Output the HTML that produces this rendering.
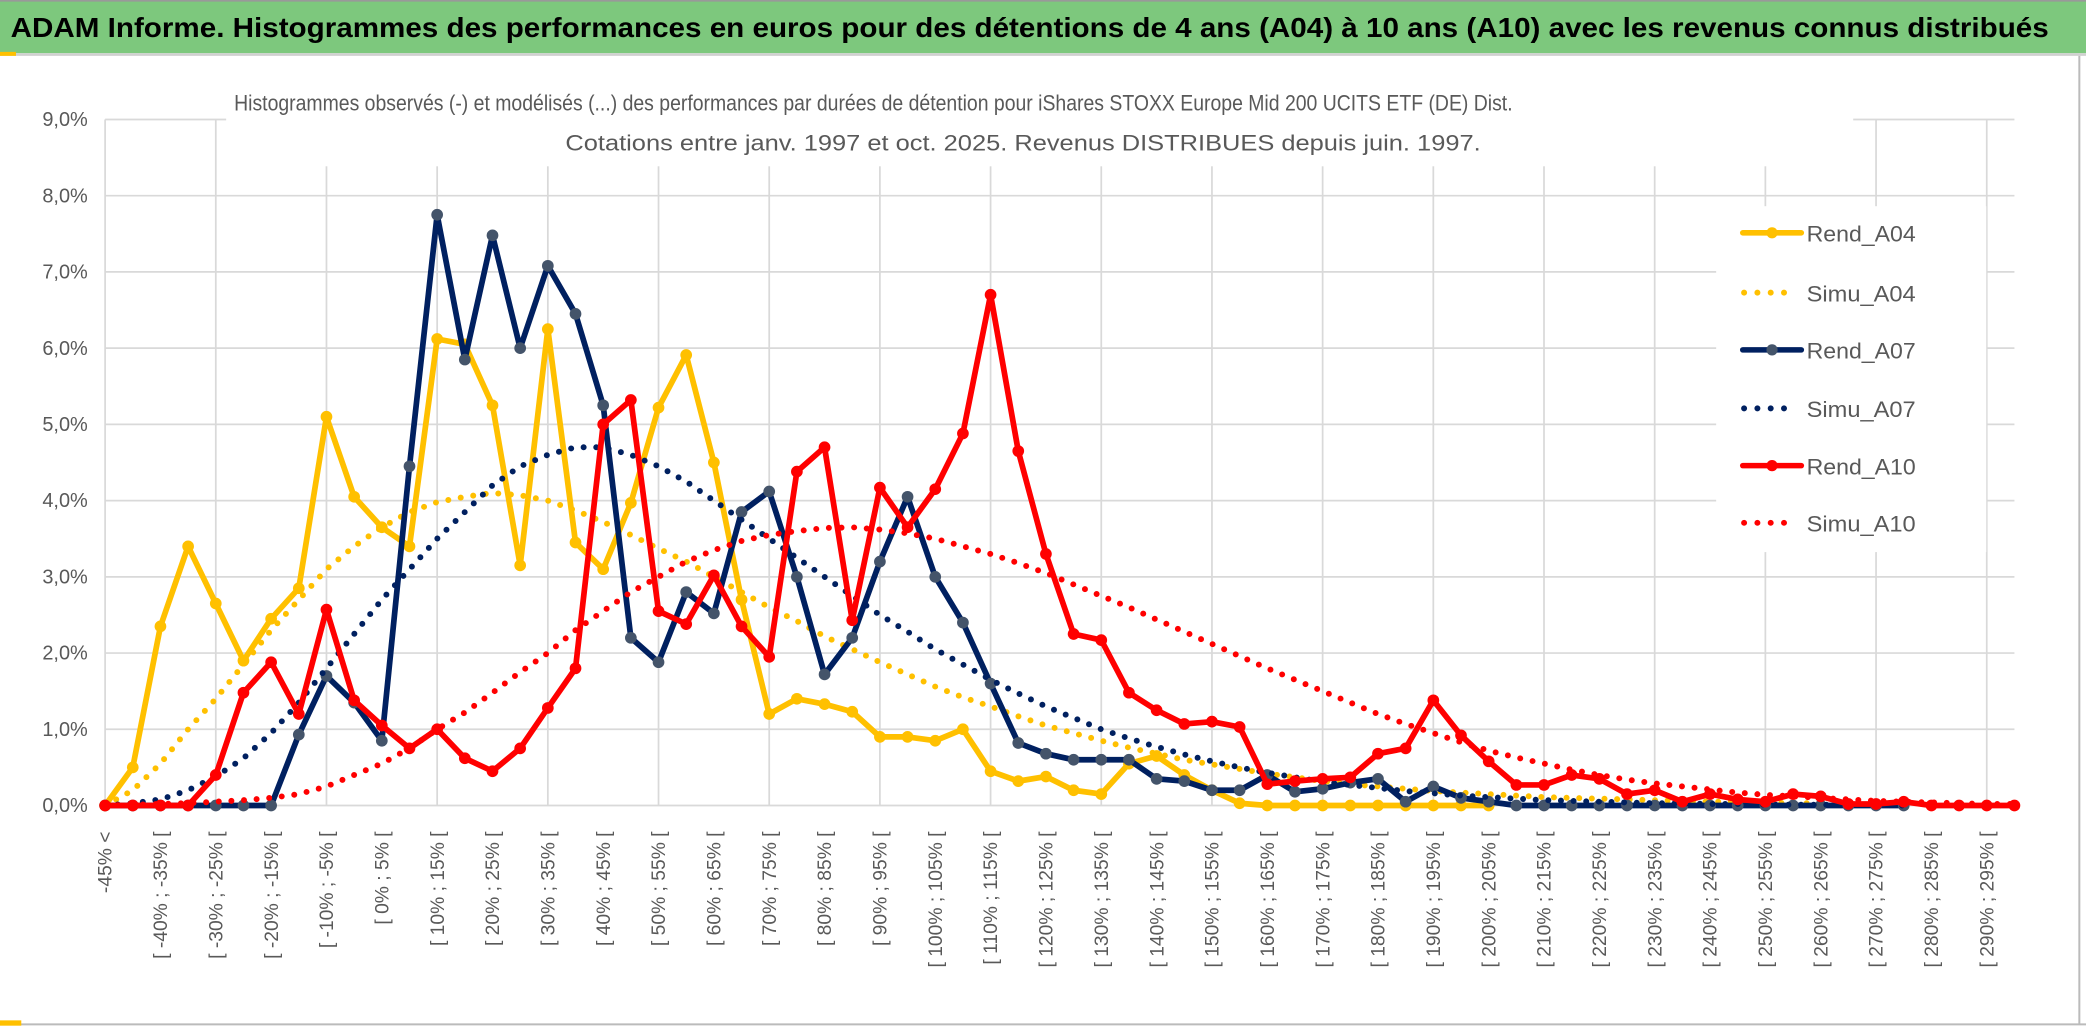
<!DOCTYPE html>
<html><head><meta charset="utf-8"><style>
html,body{margin:0;padding:0;background:#fff;}
svg{display:block;font-family:"Liberation Sans",sans-serif;}
</style></head><body>
<svg id="chart" width="2086" height="1033" viewBox="0 0 1568 776.5" preserveAspectRatio="none" xmlns="http://www.w3.org/2000/svg">
<rect x="0" y="0" width="1568" height="776.5" fill="#fff"/>
<rect x="0" y="1" width="1568" height="39" fill="#7DC87D"/>
<line x1="0" y1="0.6" x2="1568" y2="0.6" stroke="#999" stroke-width="1.2"/>
<line x1="0" y1="41" x2="1568" y2="41" stroke="#d0d0d0" stroke-width="2"/>
<rect x="0" y="39" width="12" height="3" fill="#FFC000"/>
<text x="8" y="28" font-size="21" font-weight="bold" fill="#000" textLength="1532" lengthAdjust="spacingAndGlyphs">ADAM Informe. Histogrammes des performances en euros pour des détentions de 4 ans (A04) à 10 ans (A10) avec les revenus connus distribués</text>
<line x1="1563" y1="42" x2="1563" y2="770" stroke="#bbb" stroke-width="1.5"/>
<line x1="0" y1="770" x2="1568" y2="770" stroke="#bbb" stroke-width="1.5"/>
<rect x="0" y="767" width="16" height="4" fill="#FFC000"/>
<g id="grid"></g>
<rect x="170" y="60" width="1223" height="65" fill="#fff"/>
<text x="176" y="83" font-size="17" fill="#595959" textLength="961" lengthAdjust="spacingAndGlyphs">Histogrammes observés (-) et modélisés (...) des performances par durées de détention pour iShares STOXX Europe Mid 200 UCITS ETF (DE) Dist.</text>
<text x="425" y="113" font-size="17" fill="#595959" textLength="688" lengthAdjust="spacingAndGlyphs">Cotations entre janv. 1997 et oct. 2025. Revenus DISTRIBUES depuis juin. 1997.</text>
<g id="yaxis"></g>
<g id="xaxis"></g>
<g id="series"></g>
<rect x="1290" y="155" width="203" height="260" fill="#fff"/>
<g id="legend"></g>
</svg>
<script>
const yTicks = [0,1,2,3,4,5,6,7,8,9];
const yTickLabels = ["0,0%","1,0%","2,0%","3,0%","4,0%","5,0%","6,0%","7,0%","8,0%","9,0%"];
const nCategories = 70;
const rendA04 = [0,0.5,2.35,3.4,2.65,1.9,2.45,2.85,5.1,4.05,3.65,3.4,6.12,6.05,5.25,3.15,6.25,3.45,3.1,3.97,5.22,5.91,4.5,2.7,1.2,1.4,1.33,1.23,0.9,0.9,0.85,1.0,0.45,0.32,0.38,0.2,0.15,0.55,0.65,0.4,0.2,0.03,0,0,0,0,0,0,0,0,0];
const simuA04 = [0,0.2,0.55,1.0,1.4,1.85,2.3,2.7,3.1,3.4,3.65,3.85,3.98,4.05,4.1,4.07,4.0,3.87,3.72,3.55,3.37,3.2,3.0,2.8,2.6,2.42,2.22,2.05,1.88,1.72,1.56,1.42,1.3,1.17,1.05,0.95,0.85,0.76,0.68,0.6,0.54,0.48,0.42,0.37,0.32,0.28,0.25,0.22,0.19,0.17,0.15,0.13,0.11,0.1,0.09,0.08,0.07,0.06,0.05,0.05,0.04,0.03,0.03];
const rendA07 = [0,0,0,0,0,0,0,0.93,1.7,1.35,0.85,4.45,7.75,5.85,7.48,6.0,7.08,6.45,5.25,2.2,1.88,2.8,2.52,3.85,4.12,3.0,1.72,2.2,3.2,4.05,3.0,2.4,1.6,0.82,0.68,0.6,0.6,0.6,0.35,0.32,0.2,0.2,0.4,0.18,0.22,0.3,0.35,0.05,0.25,0.1,0.05,0,0,0,0,0,0,0,0,0,0,0,0,0,0,0];
const simuA07 = [0,0.03,0.08,0.2,0.38,0.62,0.95,1.35,1.8,2.25,2.7,3.1,3.5,3.85,4.2,4.45,4.6,4.7,4.7,4.6,4.45,4.25,4.0,3.75,3.5,3.25,3.0,2.75,2.5,2.28,2.05,1.85,1.65,1.47,1.3,1.15,1.0,0.88,0.77,0.67,0.58,0.5,0.43,0.37,0.31,0.27,0.23,0.19,0.16,0.13,0.11,0.09,0.07,0.06,0.05,0.04,0.03,0.03,0.02,0.02,0.01,0.01,0.01,0.01,0.01,0];
const rendA10 = [0,0,0,0,0.4,1.48,1.88,1.2,2.57,1.38,1.05,0.75,1.0,0.62,0.45,0.75,1.28,1.8,5.0,5.32,2.55,2.38,3.02,2.35,1.95,4.38,4.7,2.43,4.17,3.65,4.15,4.88,6.7,4.65,3.3,2.25,2.17,1.48,1.25,1.07,1.1,1.03,0.28,0.32,0.35,0.37,0.68,0.75,1.38,0.92,0.58,0.27,0.27,0.4,0.35,0.15,0.2,0.05,0.15,0.08,0.05,0.15,0.12,0.02,0.02,0.05,0,0,0,0];
const simuA10 = [0,0.01,0.02,0.03,0.05,0.07,0.1,0.15,0.25,0.4,0.55,0.75,1.0,1.22,1.48,1.75,2.0,2.3,2.55,2.8,3.0,3.2,3.35,3.47,3.55,3.6,3.64,3.65,3.62,3.57,3.5,3.4,3.3,3.18,3.05,2.9,2.75,2.6,2.44,2.28,2.12,1.96,1.8,1.65,1.5,1.35,1.2,1.07,0.95,0.83,0.72,0.63,0.55,0.47,0.4,0.34,0.29,0.25,0.21,0.17,0.14,0.12,0.1,0.08,0.06,0.05,0.04,0.03,0.02,0.02];

const NS = "http://www.w3.org/2000/svg";
const X0 = 79, DX = 20.8, Y0 = 605.5, DY = 57.3;
function xScale(i){ return X0 + i*DX; }
function yScale(v){ return Y0 - v*DY; }
function mk(tag, attrs, parent){ const e=document.createElementNS(NS,tag); for(const k in attrs) e.setAttribute(k,attrs[k]); parent.appendChild(e); return e; }
function catLabel(i){ if(i===0) return "-45% <"; const a=-45+5*(i-1); return "[ "+a+"% ; "+(a+5)+"% ["; }

const grid=document.getElementById('grid');
yTicks.forEach(t=>{
  const l=mk('line',{x1:X0,x2:xScale(nCategories-1),y1:yScale(t),y2:yScale(t),stroke:'#d9d9d9','stroke-width':1.3},grid);
  
  
});
for(let i=0;i<nCategories;i+=4){
  const l=mk('line',{x1:xScale(i),x2:xScale(i),y1:yScale(9),y2:Y0,stroke:'#d9d9d9','stroke-width':1.3},grid);
  
  
}
const yaxis=document.getElementById('yaxis');
yTicks.forEach((t,k)=>{
  const e=mk('text',{x:66,y:yScale(t)+5,'text-anchor':'end','font-size':15,fill:'#595959'},yaxis);
  e.textContent=yTickLabels[k];
  
  
});
const xaxis=document.getElementById('xaxis');
for(let i=0;i<nCategories;i+=2){
  const x=xScale(i)+5, y=625;
  const e=mk('text',{x:x,y:y,'text-anchor':'end','font-size':14.5,fill:'#595959',transform:'rotate(-90 '+x+' '+y+')'},xaxis);
  e.textContent=catLabel(i);
  
  
}
const series=document.getElementById('series');
function drawSeries(arr,color,dotted,markerFill,name){
  const pts=arr.map((v,i)=>xScale(i)+','+yScale(v)).join(' ');
  const attrs={points:pts,fill:'none',stroke:color,'stroke-linejoin':'round'};
  if(dotted){attrs['stroke-width']=4.5;attrs['stroke-dasharray']='0 9.5';attrs['stroke-linecap']='round';}
  else {attrs['stroke-width']=4.3;}
  const pl=mk('polyline',attrs,series);
  
  
  if(!dotted){
    arr.forEach((v,i)=>{
      const c=mk('circle',{cx:xScale(i),cy:yScale(v),r:4.4,fill:markerFill},series);
      
      
    });
  }
}
drawSeries(rendA04,'#FFC000',false,'#FFC000','rend-a04');
drawSeries(simuA04,'#FFC000',true,null,'simu-a04');
drawSeries(rendA07,'#002060',false,'#44546A','rend-a07');
drawSeries(simuA07,'#002060',true,null,'simu-a07');
drawSeries(rendA10,'#FF0000',false,'#FF0000','rend-a10');
drawSeries(simuA10,'#FF0000',true,null,'simu-a10');

const legend=document.getElementById('legend');
const legendItems=[["Rend_A04",'#FFC000',false,'#FFC000',175],["Simu_A04",'#FFC000',true,null,220],["Rend_A07",'#002060',false,'#44546A',263],["Simu_A07",'#002060',true,null,307],["Rend_A10",'#FF0000',false,'#FF0000',350],["Simu_A10",'#FF0000',true,null,393]];
legendItems.forEach(it=>{
  const g=mk('g',{},legend);
  
  
  const y=it[4];
  if(it[2]){
    mk('line',{x1:1311,x2:1350,y1:y,y2:y,stroke:it[1],'stroke-width':4.5,'stroke-dasharray':'0 10','stroke-linecap':'round'},g);
  } else {
    mk('line',{x1:1310,x2:1354,y1:y,y2:y,stroke:it[1],'stroke-width':4.2,'stroke-linecap':'round'},g);
    mk('circle',{cx:1332,cy:y,r:4.2,fill:it[3]},g);
  }
  const t=mk('text',{x:1358,y:y+6.5,'font-size':17,fill:'#595959',textLength:82,lengthAdjust:'spacingAndGlyphs'},g);
  t.textContent=it[0];
});
</script>
</body></html>
